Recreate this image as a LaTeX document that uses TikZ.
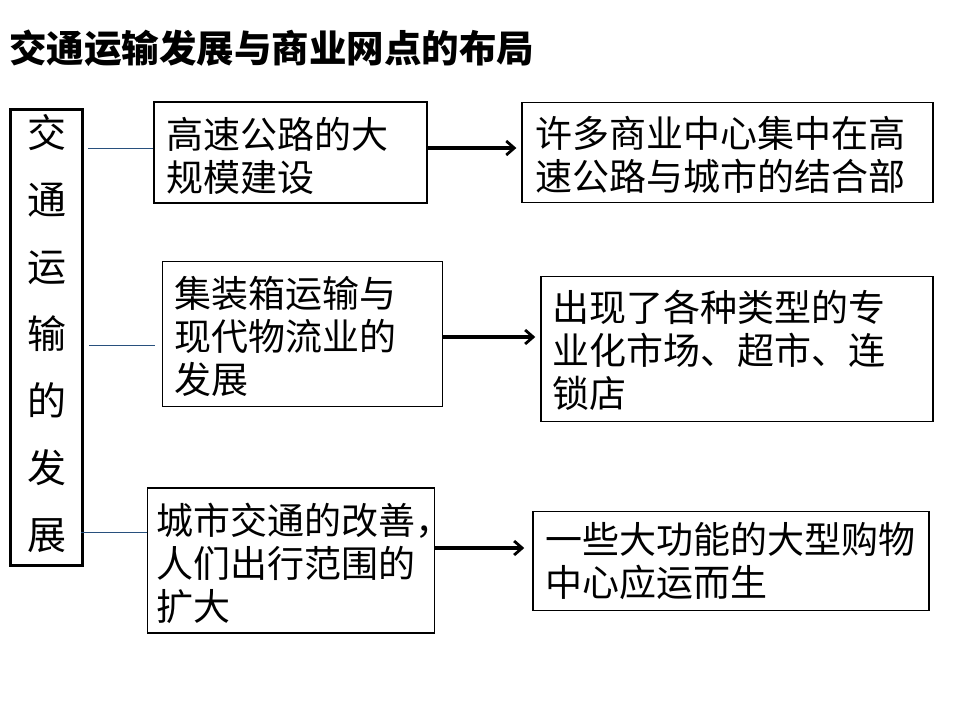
\documentclass[tikz,border=0pt]{standalone}
\usepackage{fontspec}
\newfontfamily\cjk{Noto Sans CJK SC}
\usetikzlibrary{arrows.meta}
\definecolor{linkblue}{RGB}{40,80,125}
\tikzset{
  box/.style={draw=black, line width=1.3pt, inner sep=0pt},
  bigbox/.style={draw=black, line width=3pt, inner sep=0pt},
  txt/.style={anchor=west, align=left, inner sep=0pt, font=\cjk\fontsize{37}{43}\selectfont},
  vtxt/.style={align=center, inner sep=0pt, font=\cjk\fontsize{39}{67}\selectfont},
  link/.style={draw=linkblue, line width=1pt},
  arr/.style={draw=black, line width=3.4pt, -{Straight Barb[length=8pt,width=14pt,line width=2.8pt]}},
}
\begin{document}
\begin{tikzpicture}[x=1pt,y=-1pt]
\useasboundingbox (0,0) rectangle (960,720);
\fill[white] (0,0) rectangle (960,720);
% title
\node[anchor=west, inner sep=0pt, font=\cjk\bfseries\fontsize{37.5}{40}\selectfont] (title) at (9,48) {交通运输发展与商业网点的布局};
% left vertical box
\node[bigbox, minimum width=72pt, minimum height=456pt] (lb) at (46.7,337) {};
\node[vtxt] (lt) at (47,334) {交\\通\\运\\输\\的\\发\\展};
% boxes
\node[box, minimum width=273pt, minimum height=101pt] (b1) at (290.5,152.5) {};
\node[txt] (t1) at ([xshift=13pt,yshift=-3pt]b1.west) {高速公路的大\\规模建设};
\node[box, minimum width=411pt, minimum height=100pt] (b2) at (727.5,152.5) {};
\node[txt] (t2) at ([xshift=14pt,yshift=-2pt]b2.west) {许多商业中心集中在高\\速公路与城市的结合部};
\node[box, minimum width=280pt, minimum height=145pt] (b3) at (302.7,334.2) {};
\node[txt] (t3) at ([xshift=12pt,yshift=-2pt]b3.west) {集装箱运输与\\现代物流业的\\发展};
\node[box, minimum width=392pt, minimum height=145pt] (b4) at (736.9,349.2) {};
\node[txt] (t4) at ([xshift=12pt,yshift=-1pt]b4.west) {出现了各种类型的专\\业化市场、超市、连\\锁店};
\node[box, minimum width=287pt, minimum height=145pt] (b5) at (290.7,560.5) {};
\node[txt] (t5) at ([xshift=10pt,yshift=-3pt]b5.west) {城市交通的改善，\\人们出行范围的\\扩大};
\node[box, minimum width=396pt, minimum height=99pt] (b6) at (730.9,561.3) {};
\node[txt] (t6) at ([xshift=13pt,yshift=0pt]b6.west) {一些大功能的大型购物\\中心应运而生};
% thin links from left box
\draw[link] ([xshift=4pt]lb.east |- 0,148) -- (b1.west |- 0,148);
\draw[link] ([xshift=5pt]lb.east |- 0,345) -- ([xshift=-7pt]b3.west |- 0,345);
\draw[link] ([xshift=-3pt]lb.east |- 0,532) -- (b5.west |- 0,532);
% arrows
\draw[arr] (b1.east |- 0,148) -- ([xshift=-5pt]b2.west |- 0,148);
\draw[arr] (b3.east |- 0,337) -- ([xshift=-5pt]b4.west |- 0,337);
\draw[arr] (b5.east |- 0,548) -- ([xshift=-8pt]b6.west |- 0,548);
\end{tikzpicture}
\end{document}
